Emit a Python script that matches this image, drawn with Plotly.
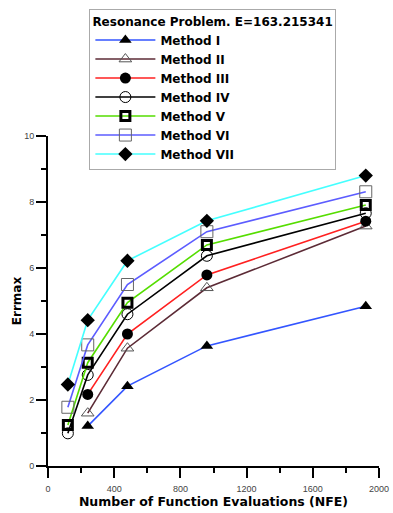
import plotly.graph_objects as go

# NFE values (x) and max error per method
nfe_all = [120, 240, 480, 960, 1920]
nfe_late = [240, 480, 960, 1920]

m1 = [1.21, 2.42, 3.64, 4.84]
m2 = [1.60, 3.57, 5.40, 7.27]
m3 = [2.17, 4.00, 5.79, 7.42]
m4 = [0.99, 2.76, 4.60, 6.37, 7.66]
m5 = [1.24, 3.13, 4.95, 6.70, 7.91]
m6 = [1.78, 3.67, 5.50, 7.10, 8.31]
m7 = [2.47, 4.42, 6.22, 7.43, 8.80]

names = ["Method I", "Method II", "Method III", "Method IV",
         "Method V", "Method VI", "Method VII"]

FONT = "Liberation Sans, Arial, Helvetica, sans-serif"
BOLD = "DejaVu Sans, Verdana, sans-serif"

series = [
    (names[0], nfe_late, m1, "#3355ff",
     dict(symbol="triangle-up", size=11, color="black")),
    (names[1], nfe_late, m2, "#5c2b36",
     dict(symbol="triangle-up-open", size=11, color="#555555", line=dict(width=1))),
    (names[2], nfe_late, m3, "#ff2020",
     dict(symbol="circle", size=11, color="black")),
    (names[3], nfe_all, m4, "#000000",
     dict(symbol="circle-open", size=11, color="black", line=dict(width=1))),
    (names[4], nfe_all, m5, "#55dd00",
     dict(symbol="square-open", size=9, color="black", line=dict(width=3))),
    (names[5], nfe_all, m6, "#5c5cff",
     dict(symbol="square-open", size=12, color="#666666", line=dict(width=1))),
    (names[6], nfe_all, m7, "#44ffff",
     dict(symbol="diamond", size=11, color="black")),
]

fig = go.Figure()
for name, xs, ys, col, mk in series:
    fig.add_trace(go.Scatter(x=xs, y=ys, name=name, mode="lines+markers",
                             line=dict(color=col, width=1.6), marker=mk))

axis_common = dict(showgrid=False, zeroline=False, showline=True,
                   linecolor="black", linewidth=2, ticks="outside",
                   tickcolor="black", tickwidth=2, ticklen=10,
                   automargin=False,
                   tickfont=dict(family=FONT, size=9, color="#444444"))

fig.update_xaxes(range=[0, 2000], dtick=400, ticklabelstandoff=3,
                 minor=dict(dtick=200, ticks="outside", ticklen=5,
                            tickwidth=2, tickcolor="black"),
                 title=dict(text="<b>Number of Function Evaluations (NFE)</b>",
                            font=dict(family=BOLD, size=12.5, color="black"),
                            standoff=0),
                 **axis_common)
fig.update_yaxes(range=[0, 10], dtick=2,
                 minor=dict(dtick=1, ticks="outside", ticklen=5,
                            tickwidth=2, tickcolor="black"),
                 title=dict(text="<b>Errmax</b>",
                            font=dict(family=BOLD, size=12, color="black"),
                            standoff=0),
                 **axis_common)

fig.update_layout(
    width=393, height=513,
    margin=dict(l=48, r=14, t=136, b=47, autoexpand=False),
    paper_bgcolor="white", plot_bgcolor="white",
    showlegend=True,
    legend=dict(x=0.125, y=1.385, xanchor="left", yanchor="top",
                bgcolor="white", bordercolor="#aaaaaa", borderwidth=1,
                title=dict(text="<b>Resonance Problem. E=163.215341</b>",
                           font=dict(family=BOLD, size=12, color="black")),
                font=dict(family=BOLD, size=12, color="black", weight="bold"),
                itemwidth=60, tracegroupgap=0),
)

fig.write_html("out.html", config={"displayModeBar": False},
               post_script="document.body.style.margin='0';")
